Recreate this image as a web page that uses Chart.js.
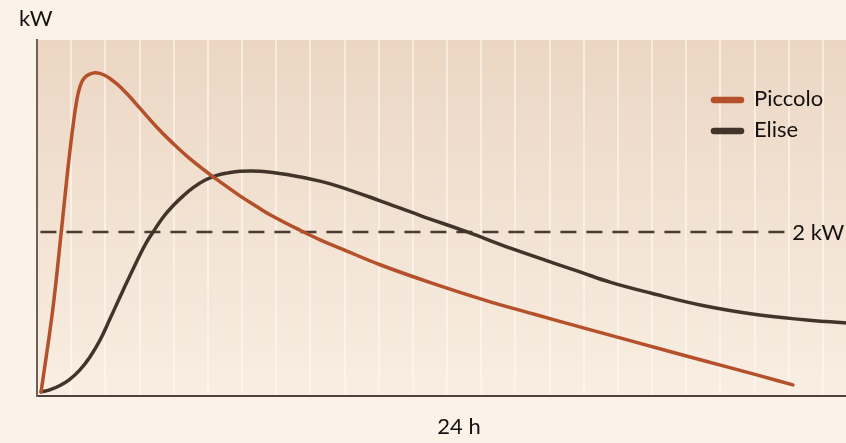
<!DOCTYPE html>
<html>
<head>
<meta charset="utf-8">
<script src="https://cdn.jsdelivr.net/npm/chart.js@4/dist/chart.umd.min.js"></script>
<style>
  html, body { margin: 0; padding: 0; background: #fbf3e8; overflow: hidden; }
  #wrap { width: 881px; height: 443px; }
</style>
</head>
<body>
<div id="wrap"><canvas id="powerChart"></canvas></div>
<script>
// hours after start / kW
const piccoloHours = [0.12, 0.46, 0.71, 0.86, 0.95, 1.05, 1.15, 1.25, 1.39, 1.69, 1.98, 2.32, 2.62, 3.01, 3.50, 3.98, 4.57, 5.26, 5.94, 6.43, 6.82, 7.70, 8.30, 8.88, 10.04, 11.60, 13.17, 14.53, 15.91, 17.57, 19.52, 21.09, 22.12];
const piccoloKw    = [0.05, 1.05, 2.00, 2.60, 2.94, 3.28, 3.57, 3.76, 3.88, 3.94, 3.91, 3.81, 3.69, 3.51, 3.28, 3.08, 2.86, 2.64, 2.44, 2.31, 2.21, 2.02, 1.90, 1.80, 1.60, 1.37, 1.16, 1.00, 0.84, 0.65, 0.43, 0.255, 0.135];

const eliseHours = [0.12, 0.37, 0.66, 0.95, 1.25, 1.54, 1.83, 2.13, 2.52, 3.01, 3.20, 3.40, 3.69, 3.98, 4.28, 4.57, 4.91, 5.26, 5.59, 5.94, 6.53, 7.31, 8.28, 8.87, 10.04, 11.22, 12.59, 13.94, 15.91, 16.79, 17.96, 19.52, 21.09, 22.45, 23.70, 24.70];
const eliseKw    = [0.05, 0.075, 0.125, 0.20, 0.315, 0.47, 0.67, 0.935, 1.29, 1.72, 1.87, 2.00, 2.18, 2.32, 2.44, 2.54, 2.63, 2.69, 2.72, 2.74, 2.74, 2.70, 2.62, 2.55, 2.38, 2.20, 2.00, 1.79, 1.51, 1.385, 1.255, 1.10, 0.99, 0.93, 0.89, 0.865];

const thresholdKw = 2;
const thresholdHours = [0.1, 21.9];

const xLabel = '24 h';
const yLabel = 'kW';
const thresholdLabel = '2 kW';

const toPoints = (xs, ys) => xs.map((x, i) => ({ x: x, y: ys[i] }));

const inkColor = '#141110';
const fontFamily = 'Lato, "Open Sans", sans-serif';

// plot background + all loose text
const decor = {
    id: 'decor',
    beforeDraw(chart) {
        const { ctx, chartArea: a } = chart;
        const g = ctx.createLinearGradient(0, a.top, 0, a.bottom);
        g.addColorStop(0, '#ecd6c3');
        g.addColorStop(1, '#f8eee2');
        ctx.save();
        ctx.fillStyle = g;
        ctx.fillRect(a.left, a.top, a.right - a.left, a.bottom - a.top);
        ctx.restore();
    },
    afterDraw(chart) {
        const { ctx, chartArea: a, scales } = chart;
        ctx.save();
        ctx.fillStyle = inkColor;
        ctx.font = '22px ' + fontFamily;
        ctx.textBaseline = 'middle';

        ctx.textAlign = 'left';
        ctx.fillText(yLabel, 19, 19);

        ctx.textAlign = 'center';
        ctx.fillText(xLabel, (a.left + a.right) / 2, 427);

        ctx.textAlign = 'left';
        ctx.fillText(thresholdLabel, scales.x.getPixelForValue(thresholdHours[1]) + 7, scales.y.getPixelForValue(thresholdKw) + 1);

        // legend
        const items = chart.data.datasets.filter(d => d.inLegend);
        items.forEach((d, i) => {
            const y = 100 + i * 31;
            ctx.strokeStyle = d.borderColor;
            ctx.lineWidth = 6.5;
            ctx.lineCap = 'round';
            ctx.beginPath();
            ctx.moveTo(714, y);
            ctx.lineTo(741, y);
            ctx.stroke();
            ctx.fillText(d.label, 754, y - 1);
        });
        ctx.restore();
    }
};

const ctx = document.getElementById('powerChart').getContext('2d');
new Chart(ctx, {
    type: 'line',
    data: {
        datasets: [
            {
                label: 'Piccolo',
                inLegend: true,
                data: toPoints(piccoloHours, piccoloKw),
                borderColor: '#b4502a',
                borderWidth: 3.5,
                pointRadius: 0,
                tension: 0.4,
                borderCapStyle: 'round'
            },
            {
                label: 'Elise',
                inLegend: true,
                data: toPoints(eliseHours, eliseKw),
                borderColor: '#42332b',
                borderWidth: 3.5,
                pointRadius: 0,
                tension: 0.4,
                borderCapStyle: 'round'
            },
            {
                label: thresholdLabel,
                inLegend: false,
                data: thresholdHours.map(h => ({ x: h, y: thresholdKw })),
                borderColor: '#4a3b32',
                borderWidth: 2.5,
                borderDash: [16, 10],
                pointRadius: 0
            }
        ]
    },
    options: {
        responsive: true,
        maintainAspectRatio: false,
        animation: false,
        layout: { padding: { top: 40, left: 0, right: 0, bottom: 0 } },
        plugins: {
            legend: { display: false },
            tooltip: { enabled: false }
        },
        scales: {
            x: {
                type: 'linear',
                min: 0,
                max: 24.7,
                ticks: { display: false, stepSize: 1 },
                grid: { color: 'rgba(255, 249, 240, 0.6)', lineWidth: 2, drawTicks: false },
                border: { display: true, color: '#4e403a', width: 2 },
                afterFit(scale) { scale.height = 47; }
            },
            y: {
                min: 0,
                max: 4.34,
                ticks: { display: false },
                grid: { display: false, drawTicks: false },
                border: { display: true, color: '#6e6058', width: 2 },
                afterFit(scale) { scale.width = 37; }
            }
        }
    },
    plugins: [decor]
});
</script>
</body>
</html>
